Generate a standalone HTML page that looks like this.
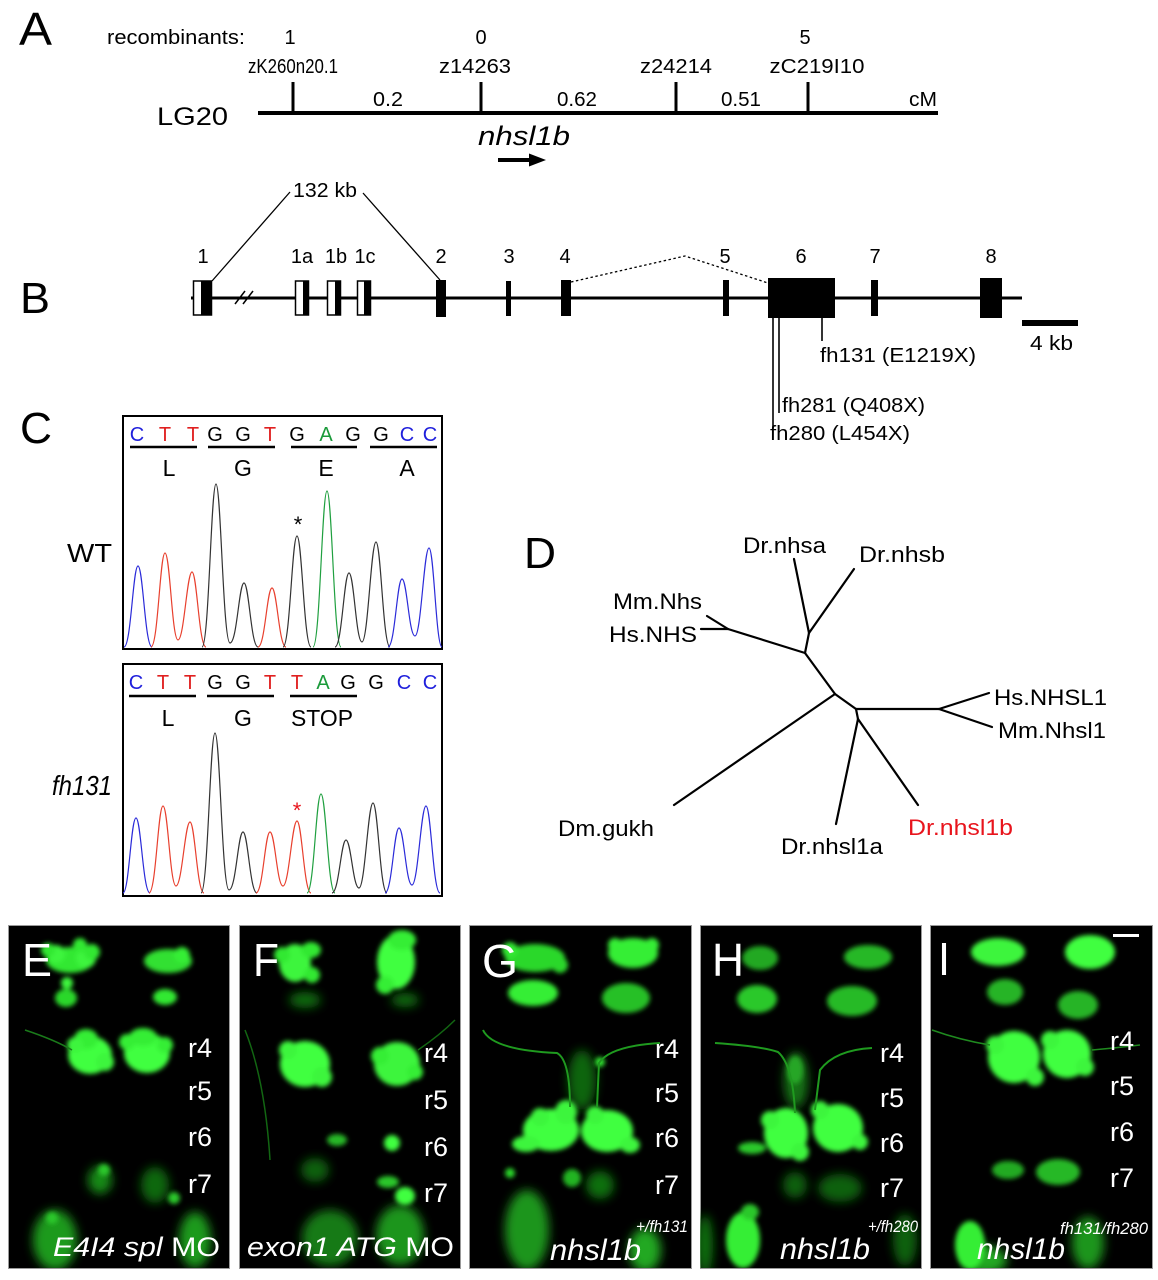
<!DOCTYPE html>
<html><head><meta charset="utf-8"><style>
html,body{margin:0;padding:0;background:#fff;}
svg{display:block;}
text{font-family:"Liberation Sans",Arial,sans-serif;}
</style></head><body>
<svg width="1158" height="1280" viewBox="0 0 1158 1280" xmlns="http://www.w3.org/2000/svg">
<defs>
<filter id="bl" x="-50%" y="-50%" width="200%" height="200%"><feGaussianBlur stdDeviation="2.5"/></filter>
<filter id="bl2" x="-50%" y="-50%" width="200%" height="200%"><feGaussianBlur stdDeviation="5"/></filter>
<clipPath id="cE"><rect x="8" y="925" width="221" height="343"/></clipPath>
<clipPath id="cF"><rect x="239" y="925" width="221" height="343"/></clipPath>
<clipPath id="cG"><rect x="469" y="925" width="222" height="343"/></clipPath>
<clipPath id="cH"><rect x="700" y="925" width="221" height="343"/></clipPath>
<clipPath id="cI"><rect x="930" y="925" width="222" height="343"/></clipPath>
</defs>
<rect width="1158" height="1280" fill="#fff"/>

<!-- ===== Panel A ===== -->
<text x="19" y="45" font-size="46" textLength="33" lengthAdjust="spacingAndGlyphs">A</text>
<text x="107" y="44" font-size="20" textLength="138" lengthAdjust="spacingAndGlyphs">recombinants:</text>
<g font-size="20" text-anchor="middle">
<text x="290" y="44">1</text><text x="481" y="44">0</text><text x="805" y="44">5</text>
<text x="293" y="73" textLength="90" lengthAdjust="spacingAndGlyphs">zK260n20.1</text>
<text x="475" y="73" textLength="72" lengthAdjust="spacingAndGlyphs">z14263</text>
<text x="676" y="73" textLength="72" lengthAdjust="spacingAndGlyphs">z24214</text>
<text x="817" y="73" textLength="95" lengthAdjust="spacingAndGlyphs">zC219I10</text>
<text x="388" y="106" textLength="30" lengthAdjust="spacingAndGlyphs">0.2</text>
<text x="577" y="106" textLength="40" lengthAdjust="spacingAndGlyphs">0.62</text>
<text x="741" y="106" textLength="40" lengthAdjust="spacingAndGlyphs">0.51</text>
<text x="923" y="106" textLength="28" lengthAdjust="spacingAndGlyphs">cM</text>
</g>
<line x1="258" y1="113" x2="938" y2="113" stroke="#000" stroke-width="4"/>
<g stroke="#000" stroke-width="3">
<line x1="293" y1="82" x2="293" y2="113"/><line x1="481" y1="82" x2="481" y2="113"/>
<line x1="676" y1="82" x2="676" y2="113"/><line x1="808" y1="82" x2="808" y2="113"/>
</g>
<text x="157" y="125" font-size="25" textLength="71" lengthAdjust="spacingAndGlyphs">LG20</text>
<text x="478" y="145" font-size="27" font-style="italic" textLength="92" lengthAdjust="spacingAndGlyphs">nhsl1b</text>
<line x1="498" y1="160" x2="532" y2="160" stroke="#000" stroke-width="4"/>
<polygon points="529,153.5 546,160 529,166.5" fill="#000"/>

<!-- ===== Panel B ===== -->
<text x="20" y="313" font-size="44" textLength="30" lengthAdjust="spacingAndGlyphs">B</text>
<text x="293" y="197" font-size="20" textLength="64" lengthAdjust="spacingAndGlyphs">132 kb</text>
<line x1="212" y1="281" x2="290" y2="192" stroke="#000" stroke-width="1.3"/>
<line x1="363" y1="193" x2="440" y2="280" stroke="#000" stroke-width="1.3"/>
<g font-size="20" text-anchor="middle">
<text x="203" y="263">1</text><text x="302" y="263">1a</text><text x="336" y="263">1b</text><text x="365" y="263">1c</text>
<text x="441" y="263">2</text><text x="509" y="263">3</text><text x="565" y="263">4</text><text x="725" y="263">5</text>
<text x="801" y="263">6</text><text x="875" y="263">7</text><text x="991" y="263">8</text>
</g>
<line x1="191" y1="298" x2="1022" y2="298" stroke="#000" stroke-width="3"/>
<g stroke="#000" stroke-width="1.5">
<line x1="235" y1="304" x2="245" y2="291"/><line x1="243" y1="304" x2="253" y2="291"/>
</g>
<g stroke="#000" stroke-width="1.5">
<rect x="193.5" y="281" width="18" height="34" fill="#fff"/>
<rect x="295.5" y="281" width="13" height="34" fill="#fff"/>
<rect x="327.5" y="281" width="13" height="34" fill="#fff"/>
<rect x="357.5" y="281" width="13" height="34" fill="#fff"/>
</g>
<g fill="#000">
<rect x="201" y="281" width="11" height="34"/>
<rect x="303" y="281" width="6" height="34"/>
<rect x="335" y="281" width="6" height="34"/>
<rect x="364" y="281" width="7" height="34"/>
<rect x="436" y="280" width="10" height="37"/>
<rect x="506" y="281" width="5" height="35"/>
<rect x="561" y="280" width="10" height="36"/>
<rect x="723" y="280" width="6" height="36"/>
<rect x="768" y="278" width="67" height="40"/>
<rect x="871" y="280" width="7" height="36"/>
<rect x="980" y="278" width="22" height="40"/>
<rect x="1022" y="320" width="56" height="6"/>
</g>
<polyline points="571,282 685,256 768,283" fill="none" stroke="#000" stroke-width="1.3" stroke-dasharray="2.5,2.5"/>
<g stroke="#000" stroke-width="1.6">
<line x1="822" y1="318" x2="822" y2="341"/>
<line x1="779" y1="318" x2="779" y2="413"/>
<line x1="773" y1="318" x2="773" y2="428"/>
</g>
<text x="1030" y="350" font-size="20" textLength="43" lengthAdjust="spacingAndGlyphs">4 kb</text>
<text x="820" y="362" font-size="20" textLength="156" lengthAdjust="spacingAndGlyphs">fh131 (E1219X)</text>
<text x="782" y="412" font-size="20" textLength="143" lengthAdjust="spacingAndGlyphs">fh281 (Q408X)</text>
<text x="770" y="440" font-size="20" textLength="140" lengthAdjust="spacingAndGlyphs">fh280 (L454X)</text>

<!-- ===== Panel C ===== -->
<text x="20" y="443" font-size="44" textLength="32" lengthAdjust="spacingAndGlyphs">C</text>
<text x="67" y="562" font-size="26" textLength="45" lengthAdjust="spacingAndGlyphs">WT</text>
<text x="52" y="795" font-size="28" font-style="italic" textLength="60" lengthAdjust="spacingAndGlyphs">fh131</text>

<rect x="123" y="416" width="319" height="233" fill="#fff" stroke="#000" stroke-width="2"/>
<g font-size="20" text-anchor="middle">
<text x="137" y="441" fill="#1f1fdc">C</text><text x="165" y="441" fill="#e02020">T</text><text x="193" y="441" fill="#e02020">T</text>
<text x="215" y="441">G</text><text x="243" y="441">G</text><text x="270" y="441" fill="#e02020">T</text>
<text x="297" y="441">G</text><text x="326" y="441" fill="#1a9a3a">A</text><text x="353" y="441">G</text>
<text x="381" y="441">G</text><text x="407" y="441" fill="#1f1fdc">C</text><text x="430" y="441" fill="#1f1fdc">C</text>
</g>
<g stroke="#000" stroke-width="2.5">
<line x1="130" y1="447" x2="197" y2="447"/><line x1="208" y1="447" x2="275" y2="447"/>
<line x1="291" y1="447" x2="357" y2="447"/><line x1="370" y1="447" x2="437" y2="447"/>
</g>
<g font-size="23" text-anchor="middle">
<text x="169" y="476">L</text><text x="243" y="476">G</text><text x="326" y="476">E</text><text x="407" y="476">A</text>
</g>
<text x="298" y="532" font-size="22" text-anchor="middle">*</text>
<g fill="none" stroke-width="1.2">
<path d="M124,647 C131,647 133,566 138,566 C143,566 145,647 152,647" stroke="#2b2bd9"/>
<path d="M151,647 C158,647 160,553 165,553 C170,553 172,640 178,640 C184,640 187,572 192,572 C197,572 199,647 206,647" stroke="#e8402e"/>
<path d="M202,647 C209,647 211,484 216,484 C221,484 223,643 230,643 C237,643 239,583 244,583 C249,583 251,647 258,647" stroke="#333"/>
<path d="M258,647 C265,647 267,588 272,588 C277,588 279,647 286,647" stroke="#e8402e"/>
<path d="M283,647 C290,647 292,536 297,536 C302,536 304,647 311,647" stroke="#333"/>
<path d="M313,647 C320,647 322,491 327,491 C332,491 334,647 341,647" stroke="#20a040"/>
<path d="M335,647 C342,647 344,573 349,573 C354,573 356,642 362,642 C368,642 371,542 376,542 C381,542 383,647 390,647" stroke="#333"/>
<path d="M388,647 C395,647 397,579 402,579 C407,579 409,636 415,636 C421,636 424,548 429,548 C434,548 436,647 442,647" stroke="#2b2bd9"/>
</g>

<rect x="123" y="664" width="319" height="232" fill="#fff" stroke="#000" stroke-width="2"/>
<g font-size="20" text-anchor="middle">
<text x="136" y="689" fill="#1f1fdc">C</text><text x="163" y="689" fill="#e02020">T</text><text x="190" y="689" fill="#e02020">T</text>
<text x="215" y="689">G</text><text x="243" y="689">G</text><text x="270" y="689" fill="#e02020">T</text>
<text x="297" y="689" fill="#e02020">T</text><text x="323" y="689" fill="#1a9a3a">A</text><text x="348" y="689">G</text>
<text x="376" y="689">G</text><text x="404" y="689" fill="#1f1fdc">C</text><text x="430" y="689" fill="#1f1fdc">C</text>
</g>
<g stroke="#000" stroke-width="2.5">
<line x1="129" y1="696" x2="196" y2="696"/><line x1="207" y1="696" x2="274" y2="696"/>
<line x1="290" y1="696" x2="357" y2="696"/>
</g>
<g font-size="23" text-anchor="middle">
<text x="168" y="726">L</text><text x="243" y="726">G</text><text x="322" y="726" textLength="62" lengthAdjust="spacingAndGlyphs">STOP</text>
</g>
<text x="297" y="818" font-size="22" text-anchor="middle" fill="#e8141c">*</text>
<g fill="none" stroke-width="1.2">
<path d="M123,893 C129,893 131,818 136,818 C141,818 143,893 150,893" stroke="#2b2bd9"/>
<path d="M149,893 C156,893 158,806 163,806 C168,806 170,886 176,886 C182,886 185,822 190,822 C195,822 197,893 204,893" stroke="#e8402e"/>
<path d="M201,893 C208,893 210,733 215,733 C220,733 222,890 229,890 C236,890 238,832 243,832 C248,832 250,893 257,893" stroke="#333"/>
<path d="M256,893 C263,893 265,832 270,832 C275,832 277,886 283,886 C289,886 292,821 297,821 C302,821 304,893 311,893" stroke="#e8402e"/>
<path d="M307,893 C314,893 316,794 321,794 C326,794 328,893 335,893" stroke="#20a040"/>
<path d="M332,893 C339,893 341,840 346,840 C351,840 353,888 359,888 C365,888 368,803 373,803 C378,803 380,893 387,893" stroke="#333"/>
<path d="M385,893 C392,893 394,828 399,828 C404,828 406,885 412,885 C418,885 421,806 426,806 C431,806 433,893 440,893" stroke="#2b2bd9"/>
</g>

<!-- ===== Panel D ===== -->
<text x="524" y="568" font-size="44" textLength="32" lengthAdjust="spacingAndGlyphs">D</text>
<g fill="none" stroke="#000" stroke-width="2.2" stroke-linecap="round">
<line x1="835" y1="694" x2="805" y2="653"/>
<line x1="805" y1="653" x2="728" y2="629"/>
<line x1="728" y1="629" x2="707" y2="616"/>
<line x1="728" y1="629" x2="701" y2="629"/>
<line x1="805" y1="653" x2="809" y2="633"/>
<line x1="809" y1="633" x2="794" y2="559"/>
<line x1="809" y1="633" x2="854" y2="569"/>
<line x1="835" y1="694" x2="674" y2="805"/>
<line x1="835" y1="694" x2="856" y2="709"/>
<line x1="856" y1="709" x2="939" y2="709"/>
<line x1="939" y1="709" x2="989" y2="693"/>
<line x1="939" y1="709" x2="992" y2="727"/>
<line x1="856" y1="709" x2="858" y2="719"/>
<line x1="858" y1="719" x2="836" y2="824"/>
<line x1="858" y1="719" x2="918" y2="805"/>
</g>
<g font-size="22">
<text x="743" y="553" textLength="83" lengthAdjust="spacingAndGlyphs">Dr.nhsa</text>
<text x="859" y="562" textLength="86" lengthAdjust="spacingAndGlyphs">Dr.nhsb</text>
<text x="613" y="609" textLength="89" lengthAdjust="spacingAndGlyphs">Mm.Nhs</text>
<text x="609" y="642" textLength="88" lengthAdjust="spacingAndGlyphs">Hs.NHS</text>
<text x="994" y="705" textLength="113" lengthAdjust="spacingAndGlyphs">Hs.NHSL1</text>
<text x="998" y="738" textLength="108" lengthAdjust="spacingAndGlyphs">Mm.Nhsl1</text>
<text x="558" y="836" textLength="96" lengthAdjust="spacingAndGlyphs">Dm.gukh</text>
<text x="781" y="854" textLength="102" lengthAdjust="spacingAndGlyphs">Dr.nhsl1a</text>
<text x="908" y="835" textLength="105" lengthAdjust="spacingAndGlyphs" fill="#e8141c">Dr.nhsl1b</text>
</g>

<!-- ===== Bottom panels ===== -->
<g stroke="#9a9a9a" stroke-width="1" fill="#000">
<rect x="8.5" y="925.5" width="221" height="343"/>
<rect x="239.5" y="925.5" width="221" height="343"/>
<rect x="469.5" y="925.5" width="222" height="343"/>
<rect x="700.5" y="925.5" width="221" height="343"/>
<rect x="930.5" y="925.5" width="222" height="343"/>
</g>

<!-- E -->
<g clip-path="url(#cE)">
<g filter="url(#bl2)">
<ellipse cx="55" cy="1240" rx="22" ry="30" fill="#1e9a1e"/>
<ellipse cx="195" cy="1240" rx="16" ry="28" fill="#1e9a1e"/>
<ellipse cx="100" cy="1180" rx="12" ry="14" fill="#178a17"/>
<ellipse cx="155" cy="1185" rx="14" ry="18" fill="#106810"/>
</g>
<g filter="url(#bl)">
<ellipse cx="70" cy="960" rx="24" ry="13" fill="#33e833"/>
<circle cx="56" cy="954" r="9" fill="#3cf53c"/>
<circle cx="86" cy="958" r="10" fill="#3cf53c"/>
<circle cx="48" cy="950" r="7" fill="#33e833"/>
<circle cx="92" cy="952" r="8" fill="#33e833"/>
<circle cx="80" cy="945" r="7" fill="#33e833"/>
<ellipse cx="168" cy="961" rx="24" ry="12" fill="#30e030"/>
<circle cx="182" cy="955" r="8" fill="#36ee36"/>
<circle cx="67" cy="983" r="6" fill="#3cf53c"/>
<ellipse cx="66" cy="998" rx="11" ry="9" fill="#2cd82c"/>
<ellipse cx="165" cy="997" rx="12" ry="8" fill="#33e833"/>
<ellipse cx="90" cy="1055" rx="22" ry="19" fill="#40ff40"/>
<ellipse cx="86" cy="1039" rx="12" ry="10" fill="#36ee36"/>
<circle cx="75" cy="1045" r="8" fill="#3cf53c"/>
<circle cx="105" cy="1062" r="9" fill="#3cf53c"/>
<ellipse cx="147" cy="1053" rx="23" ry="20" fill="#40ff40"/>
<ellipse cx="143" cy="1037" rx="14" ry="9" fill="#36ee36"/>
<circle cx="127" cy="1042" r="8" fill="#36ee36"/>
<circle cx="165" cy="1045" r="8" fill="#36ee36"/>
<circle cx="104" cy="1170" r="6" fill="#2cc82c"/>
<circle cx="174" cy="1198" r="6" fill="#2cc82c"/>
<circle cx="52" cy="1218" r="6" fill="#2cc82c"/>
</g>
<path d="M25,1030 Q55,1040 72,1050" stroke="#1a7a1a" stroke-width="1.5" fill="none"/>
</g>
<text x="22" y="976" font-size="46" fill="#fff" textLength="30" lengthAdjust="spacingAndGlyphs">E</text>
<g font-size="27" fill="#fff">
<text x="188" y="1057">r4</text><text x="188" y="1100">r5</text><text x="188" y="1146">r6</text><text x="188" y="1193">r7</text>
</g>
<text x="53" y="1256" font-size="27" fill="#fff" textLength="167" lengthAdjust="spacingAndGlyphs"><tspan font-style="italic">E4I4 spl</tspan> MO</text>

<!-- F -->
<g clip-path="url(#cF)">
<g filter="url(#bl2)">
<ellipse cx="330" cy="1238" rx="28" ry="28" fill="#137a13"/>
<ellipse cx="400" cy="1235" rx="24" ry="30" fill="#1a951a"/>
<ellipse cx="315" cy="1170" rx="14" ry="12" fill="#0f600f"/>
<ellipse cx="305" cy="1000" rx="16" ry="8" fill="#116a11"/>
<ellipse cx="405" cy="1000" rx="14" ry="7" fill="#116a11"/>
</g>
<g filter="url(#bl)">
<ellipse cx="295" cy="963" rx="16" ry="19" fill="#3cf53c"/>
<ellipse cx="311" cy="950" rx="10" ry="8" fill="#33e833"/>
<circle cx="282" cy="955" r="8" fill="#33e833"/>
<circle cx="312" cy="975" r="8" fill="#33e833"/>
<ellipse cx="396" cy="962" rx="19" ry="27" fill="#40ff40"/>
<ellipse cx="402" cy="940" rx="14" ry="10" fill="#36ee36"/>
<circle cx="385" cy="985" r="9" fill="#36ee36"/>
<ellipse cx="305" cy="1064" rx="25" ry="23" fill="#40ff40"/>
<circle cx="288" cy="1050" r="9" fill="#3cf53c"/>
<circle cx="322" cy="1077" r="10" fill="#3cf53c"/>
<ellipse cx="397" cy="1064" rx="23" ry="22" fill="#3cf53c"/>
<circle cx="380" cy="1056" r="9" fill="#36ee36"/>
<circle cx="415" cy="1072" r="8" fill="#36ee36"/>
<ellipse cx="392" cy="1143" rx="8" ry="8" fill="#40ff40"/>
<ellipse cx="337" cy="1140" rx="10" ry="6" fill="#28b828"/>
<ellipse cx="405" cy="1196" rx="10" ry="9" fill="#40ff40"/>
<ellipse cx="388" cy="1182" rx="11" ry="6" fill="#2cc82c"/>
</g>
<path d="M245,1030 Q265,1080 270,1160" stroke="#126612" stroke-width="1.5" fill="none"/>
<path d="M455,1020 Q440,1035 418,1050" stroke="#126612" stroke-width="1.5" fill="none"/>
</g>
<text x="253" y="976" font-size="46" fill="#fff" textLength="26" lengthAdjust="spacingAndGlyphs">F</text>
<g font-size="27" fill="#fff">
<text x="424" y="1062">r4</text><text x="424" y="1109">r5</text><text x="424" y="1156">r6</text><text x="424" y="1202">r7</text>
</g>
<text x="247" y="1256" font-size="27" fill="#fff" textLength="207" lengthAdjust="spacingAndGlyphs"><tspan font-style="italic">exon1 ATG</tspan> MO</text>

<!-- G -->
<g clip-path="url(#cG)">
<g filter="url(#bl2)">
<ellipse cx="582" cy="1080" rx="14" ry="30" fill="#0f650f"/>
<ellipse cx="527" cy="1230" rx="22" ry="40" fill="#1a951a"/>
<ellipse cx="645" cy="1250" rx="16" ry="22" fill="#20a820"/>
<ellipse cx="600" cy="1185" rx="14" ry="14" fill="#107010"/>
</g>
<g filter="url(#bl)">
<ellipse cx="535" cy="958" rx="30" ry="14" fill="#2cd82c"/>
<circle cx="510" cy="950" r="8" fill="#33e833"/>
<circle cx="560" cy="965" r="8" fill="#2cd82c"/>
<ellipse cx="633" cy="953" rx="25" ry="15" fill="#36ee36"/>
<circle cx="615" cy="945" r="7" fill="#36ee36"/>
<circle cx="652" cy="945" r="7" fill="#36ee36"/>
<ellipse cx="533" cy="993" rx="25" ry="13" fill="#36ee36"/>
<ellipse cx="626" cy="998" rx="24" ry="15" fill="#28c028"/>
<ellipse cx="551" cy="1130" rx="28" ry="21" fill="#40ff40"/>
<ellipse cx="526" cy="1144" rx="14" ry="8" fill="#3cf53c"/>
<circle cx="540" cy="1117" r="9" fill="#3cf53c"/>
<ellipse cx="566" cy="1112" rx="11" ry="12" fill="#3cf53c"/>
<ellipse cx="607" cy="1131" rx="26" ry="21" fill="#40ff40"/>
<circle cx="595" cy="1115" r="9" fill="#3cf53c"/>
<ellipse cx="630" cy="1145" rx="10" ry="8" fill="#3cf53c"/>
<circle cx="510" cy="1173" r="5" fill="#2cd82c"/>
<ellipse cx="572" cy="1178" rx="9" ry="9" fill="#24b424"/>
<circle cx="600" cy="1062" r="5" fill="#33e833"/>
</g>
<g fill="none" stroke="#1f9a1f" stroke-width="2">
<path d="M483,1030 Q492,1050 557,1053 Q570,1060 570,1107"/>
<path d="M660,1043 Q610,1046 599,1063 L597,1107"/>
</g>
</g>
<text x="482" y="977" font-size="46" fill="#fff" textLength="36" lengthAdjust="spacingAndGlyphs">G</text>
<g font-size="27" fill="#fff">
<text x="655" y="1058">r4</text><text x="655" y="1102">r5</text><text x="655" y="1147">r6</text><text x="655" y="1194">r7</text>
</g>
<text x="550" y="1260" font-size="30" font-style="italic" fill="#fff" textLength="91" lengthAdjust="spacingAndGlyphs">nhsl1b</text>
<text x="636" y="1232" font-size="17" font-style="italic" fill="#fff" textLength="52" lengthAdjust="spacingAndGlyphs">+/fh131</text>

<!-- H -->
<g clip-path="url(#cH)">
<g filter="url(#bl2)">
<ellipse cx="796" cy="1080" rx="12" ry="28" fill="#137213"/>
<ellipse cx="795" cy="1185" rx="12" ry="13" fill="#0f600f"/>
<ellipse cx="840" cy="1188" rx="22" ry="14" fill="#0f600f"/>
<ellipse cx="905" cy="1240" rx="12" ry="26" fill="#0f600f"/>
<ellipse cx="705" cy="1245" rx="8" ry="30" fill="#117011"/>
</g>
<g filter="url(#bl)">
<ellipse cx="760" cy="958" rx="18" ry="12" fill="#23a823"/>
<ellipse cx="868" cy="957" rx="24" ry="12" fill="#28b828"/>
<ellipse cx="757" cy="999" rx="20" ry="14" fill="#2cc82c"/>
<ellipse cx="852" cy="1001" rx="25" ry="15" fill="#26ba26"/>
<ellipse cx="786" cy="1133" rx="22" ry="25" fill="#40ff40"/>
<circle cx="770" cy="1120" r="9" fill="#3cf53c"/>
<circle cx="800" cy="1152" r="9" fill="#3cf53c"/>
<ellipse cx="752" cy="1148" rx="14" ry="6" fill="#2cc82c"/>
<ellipse cx="838" cy="1128" rx="25" ry="24" fill="#40ff40"/>
<circle cx="820" cy="1110" r="9" fill="#3cf53c"/>
<circle cx="860" cy="1142" r="8" fill="#3cf53c"/>
<ellipse cx="795" cy="1070" rx="8" ry="14" fill="#26a626"/>
<ellipse cx="743" cy="1240" rx="17" ry="28" fill="#36ee36"/>
<ellipse cx="750" cy="1212" rx="9" ry="8" fill="#2cc82c"/>
</g>
<g fill="none" stroke="#1f9a1f" stroke-width="2">
<path d="M715,1043 Q760,1046 778,1052 Q793,1065 795,1113"/>
<path d="M872,1048 Q835,1050 820,1070 L815,1110"/>
</g>
</g>
<text x="712" y="976" font-size="46" fill="#fff" textLength="32" lengthAdjust="spacingAndGlyphs">H</text>
<g font-size="27" fill="#fff">
<text x="880" y="1062">r4</text><text x="880" y="1107">r5</text><text x="880" y="1152">r6</text><text x="880" y="1197">r7</text>
</g>
<text x="780" y="1259" font-size="30" font-style="italic" fill="#fff" textLength="90" lengthAdjust="spacingAndGlyphs">nhsl1b</text>
<text x="868" y="1232" font-size="17" font-style="italic" fill="#fff" textLength="50" lengthAdjust="spacingAndGlyphs">+/fh280</text>

<!-- I -->
<g clip-path="url(#cI)">
<g filter="url(#bl2)">
<ellipse cx="1088" cy="1243" rx="16" ry="26" fill="#1a951a"/>
<ellipse cx="985" cy="1260" rx="22" ry="14" fill="#20a820"/>
</g>
<g filter="url(#bl)">
<ellipse cx="998" cy="952" rx="27" ry="14" fill="#3cf53c"/>
<ellipse cx="1090" cy="952" rx="25" ry="17" fill="#40ff40"/>
<ellipse cx="1005" cy="992" rx="18" ry="13" fill="#26b426"/>
<ellipse cx="1078" cy="1005" rx="20" ry="14" fill="#26b426"/>
<ellipse cx="1014" cy="1057" rx="26" ry="26" fill="#40ff40"/>
<circle cx="995" cy="1045" r="9" fill="#3cf53c"/>
<circle cx="1035" cy="1077" r="9" fill="#3cf53c"/>
<ellipse cx="1067" cy="1054" rx="24" ry="24" fill="#40ff40"/>
<circle cx="1050" cy="1040" r="9" fill="#3cf53c"/>
<circle cx="1085" cy="1067" r="9" fill="#3cf53c"/>
<ellipse cx="1008" cy="1170" rx="16" ry="9" fill="#24aa24"/>
<ellipse cx="1058" cy="1172" rx="22" ry="13" fill="#28b828"/>
<ellipse cx="970" cy="1245" rx="15" ry="24" fill="#36ee36"/>
</g>
<path d="M932,1030 Q960,1040 990,1045" stroke="#1f8a1f" stroke-width="1.5" fill="none"/>
<path d="M1092,1050 Q1115,1048 1140,1045" stroke="#1f8a1f" stroke-width="1.5" fill="none"/>
</g>
<text x="938" y="975" font-size="46" fill="#fff" textLength="12" lengthAdjust="spacingAndGlyphs">I</text>
<rect x="1113" y="934" width="26" height="3" fill="#fff"/>
<g font-size="27" fill="#fff">
<text x="1110" y="1050">r4</text><text x="1110" y="1095">r5</text><text x="1110" y="1141">r6</text><text x="1110" y="1187">r7</text>
</g>
<text x="977" y="1259" font-size="30" font-style="italic" fill="#fff" textLength="88" lengthAdjust="spacingAndGlyphs">nhsl1b</text>
<text x="1060" y="1234" font-size="17" font-style="italic" fill="#fff" textLength="88" lengthAdjust="spacingAndGlyphs">fh131/fh280</text>
</svg>
</body></html>
